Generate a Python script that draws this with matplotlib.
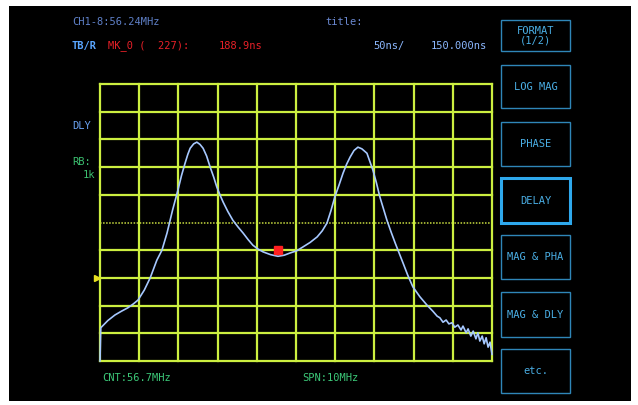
import matplotlib
matplotlib.use("Agg")
import matplotlib.pyplot as plt
import matplotlib.patches as patches
import matplotlib.transforms as transforms

# trace: frequency (MHz) and group delay (ns)
freq_mhz = [51.70, 51.72, 51.90, 52.08, 52.25, 52.41, 52.55, 52.67, 52.83, 52.98,
            53.15, 53.28, 53.41, 53.55, 53.69, 53.78, 53.87, 53.94, 54.00, 54.09,
            54.17, 54.25, 54.33, 54.42, 54.51, 54.60, 54.68, 54.76, 54.84, 54.96,
            55.09, 55.22, 55.35, 55.48, 55.60, 55.73, 55.86, 56.05, 56.24, 56.40,
            56.55, 56.72, 56.88, 57.06, 57.24, 57.37, 57.49, 57.59, 57.69, 57.80,
            57.90, 57.99, 58.08, 58.18, 58.28, 58.38, 58.51, 58.66, 58.75, 58.84,
            58.93, 59.02, 59.13, 59.23, 59.33, 59.43, 59.55, 59.68, 59.86, 60.04,
            60.19, 60.30, 60.37, 60.45, 60.53, 60.60, 60.68, 60.75, 60.83, 60.91,
            60.96, 61.04, 61.09, 61.16, 61.22, 61.29, 61.34, 61.39, 61.45, 61.50,
            61.55, 61.60, 61.65, 61.70]
delay_ns = [0, 60, 73, 83, 90, 96, 103, 110, 128, 150,
            182, 200, 231, 272, 309, 335, 357, 373, 384, 392,
            395, 391, 384, 370, 350, 332, 314, 300, 287, 270,
            254, 242, 231, 219, 209, 202, 197, 192, 189, 191,
            195, 199, 206, 214, 224, 235, 249, 271, 296, 318,
            339, 355, 368, 380, 386, 383, 375, 345, 322, 296,
            275, 254, 232, 213, 195, 177, 155, 134, 116, 101,
            90, 81, 78, 70, 74, 67, 69, 61, 65, 56,
            63, 51, 58, 45, 54, 40, 51, 36, 45, 31,
            42, 25, 34, 12]

center_mhz = 56.7
span_mhz = 10.0
scale_ns = 50
ref_ns = 150.0
marker_mhz = 56.24
marker_ns = 188.9
marker_idx = 227

buttons = ["FORMAT\n(1/2)", "LOG MAG", "PHASE", "DELAY", "MAG & PHA", "MAG & DLY", "etc."]
button_tops = [20, 65, 122, 178, 235, 292, 349]
button_heights = [31, 43, 44, 45, 44, 45, 44]

W, H = 638, 405
fig = plt.figure(figsize=(W / 100, H / 100), dpi=100, facecolor="white")

# screen background + overlay in pixel coordinates
scr = fig.add_axes([0, 0, 1, 1])
scr.set_xlim(0, W)
scr.set_ylim(H, 0)
scr.axis("off")
scr.add_patch(patches.Rectangle((9, 6), 622, 395, facecolor="black", edgecolor="none"))

# plot area
gx0, gx1, gy0, gy1 = 100, 492, 84, 361
ax = fig.add_axes([gx0 / W, 1 - gy1 / H, (gx1 - gx0) / W, (gy1 - gy0) / H])
ax.set_facecolor("none")
fmin = center_mhz - span_mhz / 2
fmax = center_mhz + span_mhz / 2
ax.set_xlim(fmin, fmax)
ax.set_ylim(0, scale_ns * 10)
for s in ax.spines.values():
    s.set_visible(False)
ax.set_xticks([])
ax.set_yticks([])

grid_col = "#ccef40"
for k in range(11):
    ax.axvline(fmin + k * span_mhz / 10, color=grid_col, lw=1.6, clip_on=False, zorder=1)
    y = k * scale_ns
    if k == 5:
        ax.axhline(y, color="#c8dc40", lw=1.1, ls=(0, (1, 1)), clip_on=False, zorder=1)
    else:
        ax.axhline(y, color=grid_col, lw=1.6, clip_on=False, zorder=1)

ax.plot(freq_mhz, delay_ns, color="#a6c8ff", lw=1.2, zorder=3, clip_on=False)

# reference position triangle on the left edge
tr = transforms.blended_transform_factory(ax.transAxes, ax.transData)
ax.plot([-0.008], [ref_ns], marker=">", color="#e8e020", ms=5, transform=tr, clip_on=False)

# marker 0
ax.plot([marker_mhz], [marker_ns + 11], marker="s", color="#ff2020", ms=6, zorder=4)

mono = "DejaVu Sans Mono"
fs = 7.5
scr.text(72, 22, "CH1-8:56.24MHz", color="#5f80c8", fontsize=fs, family=mono, va="center")
scr.text(72, 46, "TB/R", color="#5aa6ff", fontsize=fs, family=mono, va="center", weight="bold")
scr.text(108, 46, "MK_0 (  %d):" % marker_idx, color="#e82028", fontsize=fs, family=mono, va="center")
scr.text(262, 46, "%.1fns" % marker_ns, color="#e82028", fontsize=fs, family=mono, va="center", ha="right")
scr.text(325, 22, "title:", color="#6a88d0", fontsize=fs, family=mono, va="center")
scr.text(373, 46, "%dns/" % scale_ns, color="#8cb8ff", fontsize=fs, family=mono, va="center")
scr.text(487, 46, "%.3fns" % ref_ns, color="#8cb8ff", fontsize=fs, family=mono, va="center", ha="right")
scr.text(72, 126, "DLY", color="#6aa2f2", fontsize=fs, family=mono, va="center")
scr.text(72, 162, "RB:", color="#3cc070", fontsize=fs, family=mono, va="center")
scr.text(95, 175, "1k", color="#3cc070", fontsize=fs, family=mono, va="center", ha="right")
scr.text(102, 378, "CNT:%.1fMHz" % center_mhz, color="#3cc878", fontsize=fs, family=mono, va="center")
scr.text(302, 378, "SPN:%dMHz" % span_mhz, color="#3cc878", fontsize=fs, family=mono, va="center")

# soft keys
for lab, top, h in zip(buttons, button_tops, button_heights):
    active = lab == "DELAY"
    scr.add_patch(patches.Rectangle((501, top), 69, h, facecolor="none",
                                    edgecolor="#2ea8ec" if active else "#2f86b8",
                                    lw=2.2 if active else 1.0))
    scr.text(535.5, top + h / 2, lab, color="#4aaee4", fontsize=fs, family=mono,
             ha="center", va="center", linespacing=1.0)

fig.savefig("out.png", dpi=100, facecolor="white")
